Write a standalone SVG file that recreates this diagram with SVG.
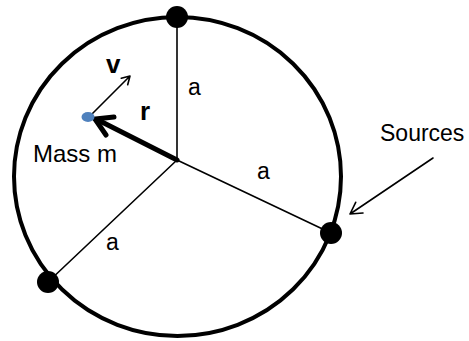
<svg xmlns="http://www.w3.org/2000/svg" width="469" height="341" viewBox="0 0 469 341">
<style>
.lbl{font-family:"Liberation Sans",Arial,sans-serif;fill:#000}
.thin{stroke:#000;stroke-width:1.6;fill:none;stroke-linecap:round;stroke-linejoin:round}
.src{fill:#000}
</style>
<rect width="469" height="341" fill="#fff"/>
<g id="ring">
<ellipse cx="177.5" cy="176.5" rx="163.5" ry="159.5" fill="none" stroke="#000" stroke-width="4"/>
</g>
<g id="connectors">
<line class="thin" x1="177" y1="160" x2="177" y2="17"/>
<line class="thin" x1="177" y1="160" x2="331" y2="233"/>
<line class="thin" x1="177" y1="160" x2="48" y2="282"/>
<path class="thin" d="M92 114 L130 76 M121.3 78.3 L130 76 L127.7 84.7"/>
<path d="M177 160 L97 119.5" stroke="#000" stroke-width="5" fill="none" stroke-linecap="round"/>
<path d="M114 117 L95 119 L106 135" stroke="#000" stroke-width="5" fill="none" stroke-linecap="round" stroke-linejoin="miter"/>
<path class="thin" d="M433 158 L350 214 M363 213 L350 214 L355.7 202.3"/>
</g>
<g id="source-top"><circle class="src" cx="177" cy="17" r="11"/></g>
<g id="source-right"><circle class="src" cx="331" cy="233" r="11"/></g>
<g id="source-left"><circle class="src" cx="48" cy="282" r="11"/></g>
<g id="mass">
<ellipse cx="88" cy="117" rx="6.5" ry="5" fill="#4f81bd"/>
<text class="lbl" x="33" y="162" font-size="24">Mass m</text>
</g>
<g id="labels">
<text class="lbl" x="106" y="73" font-size="26" font-weight="bold">v</text>
<text class="lbl" x="140" y="120" font-size="26" font-weight="bold">r</text>
<text class="lbl" x="188" y="95" font-size="23">a</text>
<text class="lbl" x="257" y="179" font-size="23">a</text>
<text class="lbl" x="106" y="250" font-size="23">a</text>
<text class="lbl" x="380" y="141" font-size="23">Sources</text>
</g>
</svg>
